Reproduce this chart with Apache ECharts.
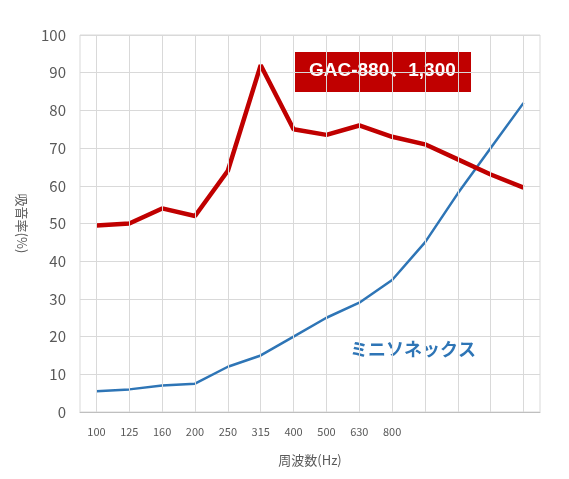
<!DOCTYPE html>
<html><head><meta charset="utf-8">
<script src="https://cdn.jsdelivr.net/npm/echarts@6/dist/echarts.min.js"></script>
<style>html,body{margin:0;padding:0;background:#fff}#c{width:569px;height:479px}</style>
</head><body><div id="c"></div>
<script>
var categories = ['100','125','160','200','250','315','400','500','630','800','1000','1250','1600','2000'];
var labeledCount = 10;
var gacValues = [49.5, 50, 54, 52, 64, 92, 75, 73.5, 76, 73, 71, 67, 63, 59.5];
var miniValues = [5.5, 6, 7, 7.5, 12, 15, 20, 25, 29, 35, 45, 58, 70, 82];
var font = '"Noto Sans CJK JP", "Noto Sans", sans-serif';
var chart = echarts.init(document.getElementById('c'));
chart.setOption({
  animation: false,
  textStyle: {fontFamily: font},
  grid: {left: 80, right: 29, top: 35, bottom: 67, show: true, borderColor: '#d9d9d9', borderWidth: 1},
  xAxis: {
    type: 'category', data: categories, boundaryGap: true,
    name: '周波数(Hz)', nameLocation: 'middle', nameGap: 42,
    nameTextStyle: {color: '#595959', fontSize: 13},
    axisLine: {lineStyle: {color: '#bfbfbf'}}, axisTick: {show: false},
    axisLabel: {color: '#595959', fontSize: 11, margin: 14, interval: 0,
      formatter: function(v, i){ return i < labeledCount ? v : ''; }},
    splitLine: {show: false}
  },
  yAxis: {
    type: 'value', min: 0, max: 100, interval: 10,
    name: '吸音率(%)', nameLocation: 'middle', nameGap: 52, nameRotate: 270,
    nameTextStyle: {color: '#595959', fontSize: 13},
    axisLine: {show: false}, axisTick: {show: false},
    axisLabel: {color: '#595959', fontSize: 15, margin: 14},
    splitLine: {lineStyle: {color: '#d9d9d9'}}
  },
  series: [
    {type: 'line', data: miniValues, symbol: 'none', smooth: false,
     lineStyle: {color: '#2e75b6', width: 2.5}, z: 3,
     markLine: {silent: true, symbol: 'none', label: {show: false},
       lineStyle: {color: '#d9d9d9', type: 'solid', width: 1},
       data: categories.map(function(c){ return {xAxis: c}; })}},
    {type: 'line', data: gacValues, symbol: 'none',
     lineStyle: {color: '#c00000', width: 4.5}, z: 4}
  ],
  graphic: [
    {type: 'rect', left: 295, top: 52, shape: {width: 176, height: 40}, style: {fill: '#c00000'}},
    {type: 'text', left: 309, top: 61, style: {text: 'GAC-880、1,300', fill: '#fff', font: 'bold 19px "Liberation Sans", "Noto Sans CJK JP", sans-serif'}},
    {type: 'text', left: 350, top: 340, style: {text: 'ミニソネックス', fill: '#2e75b6', font: 'bold 18px ' + font}}
  ]
});
</script></body></html>
